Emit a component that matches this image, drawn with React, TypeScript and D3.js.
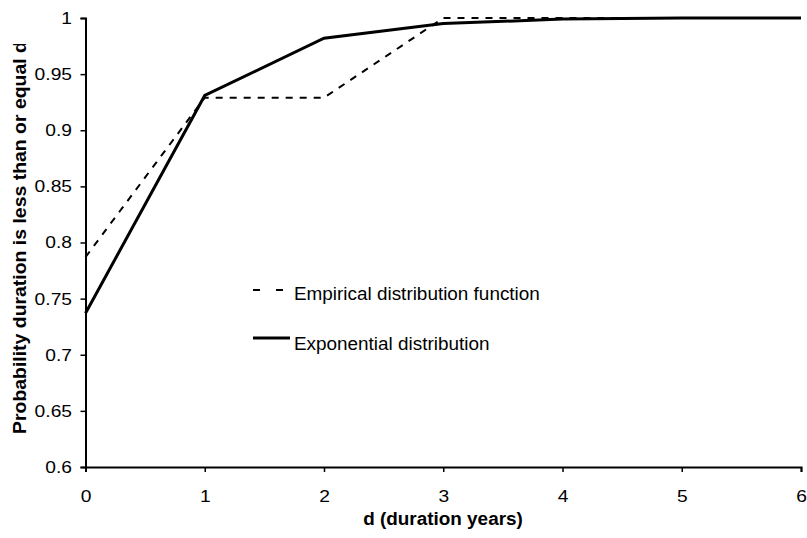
import React from "react";
import * as d3 from "d3";

const durations = [0, 1, 2, 3, 4, 5, 6];
const empirical = [0.787, 0.929, 0.929, 1.0, 1.0, 1.0, 1.0];
const exponential = [0.737, 0.931, 0.982, 0.995, 0.999, 1.0, 1.0];
const yTicks = [0.6, 0.65, 0.7, 0.75, 0.8, 0.85, 0.9, 0.95, 1];
const xTicks = [0, 1, 2, 3, 4, 5, 6];

const W = 807;
const H = 538;
const margin = { left: 85.5, right: 6, top: 18, bottom: 71 };

// widen glyphs a bit, the original text is stretched horizontally
function stretch(sel, k) {
  sel.each(function () {
    const len = this.getComputedTextLength();
    d3.select(this).attr("textLength", len * k).attr("lengthAdjust", "spacingAndGlyphs");
  });
}

const App = () => {
  const ref = React.useRef(null);

  React.useEffect(() => {
    const svg = d3.select(ref.current);
    svg.selectAll("*").remove();

    const x = d3.scaleLinear().domain([0, 6]).range([margin.left, W - margin.right]);
    const y = d3.scaleLinear().domain([0.6, 1]).range([H - margin.bottom, margin.top]);
    const font = "Liberation Sans, Arial, sans-serif";

    // y axis
    const ya = svg.append("g")
      .attr("transform", `translate(${margin.left},0)`)
      .call(d3.axisLeft(y).tickValues(yTicks).tickSize(5).tickPadding(8.5).tickFormat(d => String(d)));
    ya.select(".domain").attr("stroke", "#000").attr("stroke-width", 2);
    ya.selectAll("line").attr("stroke", "#000").attr("stroke-width", 1.5);
    ya.selectAll("text").attr("font-family", font).attr("font-size", 17).attr("fill", "#000");
    stretch(ya.selectAll("text"), 1.13);

    // x axis
    const xa = svg.append("g")
      .attr("transform", `translate(0,${H - margin.bottom})`)
      .call(d3.axisBottom(x).tickValues(xTicks).tickSize(5).tickPadding(18).tickFormat(d3.format("d")));
    xa.select(".domain").attr("stroke", "#000").attr("stroke-width", 2);
    xa.selectAll("line").attr("stroke", "#000").attr("stroke-width", 1.5);
    xa.selectAll("text").attr("font-family", font).attr("font-size", 17).attr("fill", "#000");
    stretch(xa.selectAll("text"), 1.13);

    const line = d3.line<number>()
      .x((_, i) => x(durations[i]))
      .y(d => y(d));

    svg.append("path")
      .datum(empirical)
      .attr("d", line)
      .attr("fill", "none")
      .attr("stroke", "#000")
      .attr("stroke-width", 2)
      .attr("stroke-dasharray", "7,7");

    svg.append("path")
      .datum(exponential)
      .attr("d", line)
      .attr("fill", "none")
      .attr("stroke", "#000")
      .attr("stroke-width", 3);

    // legend
    const lg = svg.append("g");
    lg.append("line")
      .attr("x1", 253).attr("x2", 284).attr("y1", 290).attr("y2", 290)
      .attr("stroke", "#000").attr("stroke-width", 2).attr("stroke-dasharray", "7,16");
    lg.append("text")
      .attr("x", 294).attr("y", 300)
      .attr("font-family", font).attr("font-size", 17.5)
      .text("Empirical distribution function");
    lg.append("line")
      .attr("x1", 253).attr("x2", 290).attr("y1", 338).attr("y2", 338)
      .attr("stroke", "#000").attr("stroke-width", 3);
    lg.append("text")
      .attr("x", 294).attr("y", 350)
      .attr("font-family", font).attr("font-size", 17.5)
      .text("Exponential distribution");
    stretch(lg.selectAll("text"), 1.08);

    // axis titles
    const xt = svg.append("text")
      .attr("x", 443)
      .attr("y", 525)
      .attr("text-anchor", "middle")
      .attr("font-family", font).attr("font-size", 18).attr("font-weight", "bold")
      .text("d (duration years)");
    stretch(xt, 1.05);

    // the y title is cut off near the top, as in the original
    svg.append("clipPath").attr("id", "ytclip")
      .append("rect").attr("x", 0).attr("y", 44).attr("width", 60).attr("height", 460);
    const yt = svg.append("g").attr("clip-path", "url(#ytclip)")
      .append("text")
      .attr("transform", "translate(25.5,434) rotate(-90)")
      .attr("text-anchor", "start")
      .attr("font-family", font).attr("font-size", 18.5).attr("font-weight", "bold")
      .text("Probability duration is less than or equal d");
    stretch(yt, 1.05);
  }, []);

  return (
    <svg ref={ref} width={W} height={H}
      style={{ position: "absolute", left: 0, top: 0, background: "#fff" }} />
  );
};

export default App;
